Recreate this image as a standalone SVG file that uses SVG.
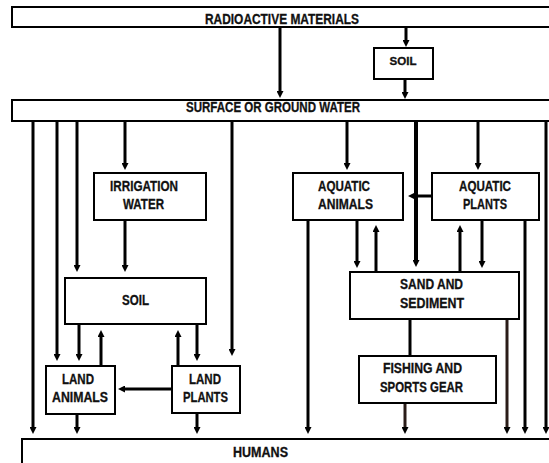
<svg xmlns="http://www.w3.org/2000/svg" width="549" height="463" viewBox="0 0 549 463">
<style>
.box{fill:#fff;stroke:#000;stroke-width:2}
.t{font-family:"Liberation Sans",Arial,sans-serif;font-weight:bold;font-size:14px;fill:#111;stroke:#111;stroke-width:0.3;text-anchor:middle}
.c{stroke:#000;stroke-width:3;fill:none}
.b{stroke:#2a1c18}
</style>
<defs>
<marker id="a" viewBox="0 0 7 7" refX="3" refY="3.5" markerWidth="7" markerHeight="7" markerUnits="userSpaceOnUse" orient="auto">
<path d="M0,0 L7,3.5 L0,7 z" fill="#000"/>
</marker>
</defs>
<rect width="549" height="463" fill="#fff"/>
<g id="radioactive"><rect class="box" x="12" y="7" width="560" height="20"/><text class="t" x="282" y="24" textLength="154" lengthAdjust="spacingAndGlyphs">RADIOACTIVE  MATERIALS</text></g>
<g id="soil-top"><rect class="box" x="374" y="48" width="59" height="31"/><text class="t" x="403" y="65" textLength="27" lengthAdjust="spacingAndGlyphs" style="font-size:11.5px">SOIL</text></g>
<g id="surface"><rect class="box" x="12" y="100" width="560" height="21"/><text class="t" x="273" y="112" textLength="174" lengthAdjust="spacingAndGlyphs">SURFACE OR GROUND WATER</text></g>
<g id="irrigation"><rect class="box" x="94" y="173" width="112" height="47"/><text class="t" x="144" y="191" textLength="68" lengthAdjust="spacingAndGlyphs">IRRIGATION</text><text class="t" x="143.5" y="209" textLength="41" lengthAdjust="spacingAndGlyphs">WATER</text></g>
<g id="soil"><rect class="box" x="65" y="278" width="141" height="46"/><text class="t" x="135.5" y="305" textLength="27" lengthAdjust="spacingAndGlyphs">SOIL</text></g>
<g id="aquatic-animals"><rect class="box" x="293" y="173" width="110" height="47"/><text class="t" x="344" y="191" textLength="52" lengthAdjust="spacingAndGlyphs">AQUATIC</text><text class="t" x="345.5" y="209" textLength="55" lengthAdjust="spacingAndGlyphs">ANIMALS</text></g>
<g id="aquatic-plants"><rect class="box" x="432" y="173" width="107" height="47"/><text class="t" x="485" y="191" textLength="52" lengthAdjust="spacingAndGlyphs">AQUATIC</text><text class="t" x="485" y="209" textLength="44" lengthAdjust="spacingAndGlyphs">PLANTS</text></g>
<g id="sand"><rect class="box" x="350" y="272" width="169" height="47"/><text class="t" x="431.5" y="289" textLength="63" lengthAdjust="spacingAndGlyphs">SAND AND</text><text class="t" x="432" y="308" textLength="64" lengthAdjust="spacingAndGlyphs">SEDIMENT</text></g>
<g id="fishing"><rect class="box" x="359" y="356" width="137" height="47"/><text class="t" x="422.5" y="373" textLength="79" lengthAdjust="spacingAndGlyphs">FISHING AND</text><text class="t" x="421.5" y="392" textLength="83" lengthAdjust="spacingAndGlyphs">SPORTS  GEAR</text></g>
<g id="land-animals"><rect class="box" x="46" y="366" width="69" height="48"/><text class="t" x="78" y="384" textLength="32" lengthAdjust="spacingAndGlyphs">LAND</text><text class="t" x="80" y="402" textLength="56" lengthAdjust="spacingAndGlyphs">ANIMALS</text></g>
<g id="land-plants"><rect class="box" x="172" y="366" width="68" height="47"/><text class="t" x="205" y="384" textLength="32" lengthAdjust="spacingAndGlyphs">LAND</text><text class="t" x="205.5" y="402" textLength="45" lengthAdjust="spacingAndGlyphs">PLANTS</text></g>
<g id="humans"><rect class="box" x="22" y="439" width="560" height="40"/><text class="t" x="260.5" y="457" textLength="55" lengthAdjust="spacingAndGlyphs">HUMANS</text></g>
<g id="connectors">
<path class="c" d="M280,28 V94" marker-end="url(#a)"/>
<path class="c" d="M406,28 V43" marker-end="url(#a)"/>
<path class="c" d="M405,80 V95" marker-end="url(#a)"/>
<path class="c" d="M33,122 V430" marker-end="url(#a)"/>
<path class="c" d="M57,122 V357" marker-end="url(#a)"/>
<path class="c" d="M77,122 V268" marker-end="url(#a)"/>
<path class="c" d="M125,122 V166" marker-end="url(#a)"/>
<path class="c" d="M232,122 V352" marker-end="url(#a)"/>
<path class="c" d="M347,122 V166" marker-end="url(#a)"/>
<path class="c" d="M416,122 V263" style="stroke-width:4" marker-end="url(#a)"/>
<path class="c" d="M478,122 V166" marker-end="url(#a)"/>
<path class="c" d="M546,122 V430" marker-end="url(#a)"/>
<path class="c" d="M125,221 V268" marker-end="url(#a)"/>
<path class="c" d="M79,325 V357" marker-end="url(#a)"/>
<path class="c" d="M101,365 V334" marker-end="url(#a)"/>
<path class="c" d="M178,365 V334" marker-end="url(#a)"/>
<path class="c" d="M197,325 V357" marker-end="url(#a)"/>
<path class="c" d="M77,415 V430" marker-end="url(#a)"/>
<path class="c" d="M197,414 V430" marker-end="url(#a)"/>
<path class="c" d="M171,389 H122" marker-end="url(#a)"/>
<path class="c" d="M308,221 V430" marker-end="url(#a)"/>
<path class="c" d="M357,221 V264" marker-end="url(#a)"/>
<path class="c" d="M376,271 V229" marker-end="url(#a)"/>
<path class="c" d="M460,271 V229" marker-end="url(#a)"/>
<path class="c" d="M482,221 V264" marker-end="url(#a)"/>
<path class="c" d="M525,221 V430" marker-end="url(#a)"/>
<path class="c" d="M431,196 H412" marker-end="url(#a)"/>
<path class="c" d="M410,320 V355"/>
<path class="c b" d="M405,404 V430" marker-end="url(#a)"/>
<path class="c b" d="M507,320 V430" marker-end="url(#a)"/>
</g>
</svg>
